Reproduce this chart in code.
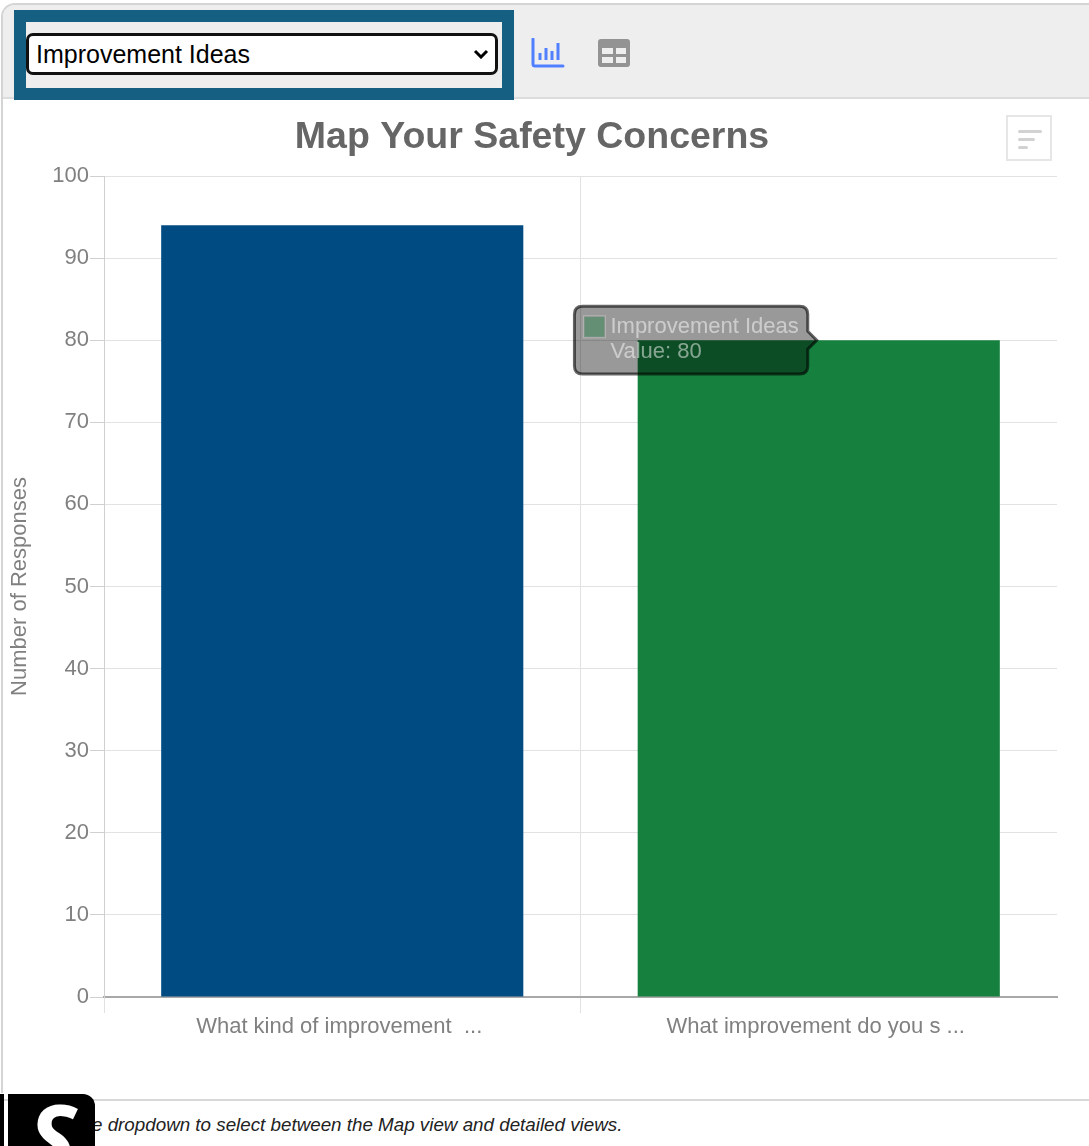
<!DOCTYPE html>
<html>
<head>
<meta charset="utf-8">
<title>Map Your Safety Concerns</title>
<script src="https://cdn.jsdelivr.net/npm/chart.js@4"></script>
<style>
    html, body { margin: 0; padding: 0; background: #fff; overflow: hidden; }
    body { width: 1089px; height: 1146px; position: relative; font-family: "Liberation Sans", Arial, sans-serif; }
    #panel { position: absolute; left: 1px; top: 3px; width: 1090px; height: 1090px; box-sizing: border-box;
        border: 2px solid #d4d4d4; border-right: 0; border-bottom: 0; border-top-left-radius: 14px; }
    #toolbar { position: absolute; left: 3px; top: 5px; width: 1086px; height: 92px; background: #eee; border-bottom: 2px solid #dcdcdc;
        border-top-left-radius: 12px; }
    #focus { position: absolute; left: 14px; top: 10px; width: 476px; height: 66px; background: #eee; border: 12px solid #156082; }
    #picker { position: absolute; left: 26px; top: 33px; width: 472px; height: 42px; font: 25px "Liberation Sans", Arial, sans-serif;
        color: #000; border: 3px solid #111; border-radius: 7px; padding: 0 0 0 7px; box-sizing: border-box; outline: 0;
        appearance: none; -webkit-appearance: none;
        background: #fff url("data:image/svg+xml,%3Csvg xmlns='http://www.w3.org/2000/svg' width='16' height='10'%3E%3Cpath d='M2 2l6 6 6-6' fill='none' stroke='%23000' stroke-width='3'/%3E%3C/svg%3E") no-repeat right 6px center; }
    .icon { position: absolute; top: 38px; }
    #chart-wrap { position: absolute; left: 0; top: 100px; width: 1089px; height: 990px; }
    #sort { position: absolute; left: 1006px; top: 115px; width: 46px; height: 46px; box-sizing: border-box; border: 2px solid #e6e6e6; background: #fff; }
    #sort i { position: absolute; left: 10px; height: 3px; background: #d2d2d2; border-radius: 2px; }
    #footer { position: absolute; left: 0; right: 0; top: 1099px; border-top: 2px solid #d8d8d8; }
    #note { position: absolute; left: 92px; top: 1114px; font: italic 18.8px "Liberation Sans", Arial, sans-serif; color: #222; white-space: nowrap; }
    #badge { position: absolute; left: 8px; top: 1094px; width: 87px; height: 52px; background: #000; border-top-right-radius: 12px; overflow: hidden; }
    #badge span { position: absolute; left: 20px; top: -4px; font: italic bold 92px "Open Sans", sans-serif; color: #fff; line-height: 92px; }
    #badge-l { position: absolute; left: 0; top: 1094px; width: 4px; height: 52px; background: #000; }
</style>
</head>
<body>
<div id="panel"></div>
<div id="toolbar"></div>
<div id="focus"></div>
<select id="picker"><option>Improvement Ideas</option></select>
<svg class="icon" style="left:531px" width="34" height="30" viewBox="0 0 34 30">
    <path d="M2 1v25a2 2 0 0 0 2 2h28" fill="none" stroke="#5080ff" stroke-width="3" stroke-linecap="round"/>
    <path d="M9 15v7M15 10v12M21 13v9M27 5v17" stroke="#5080ff" stroke-width="3" fill="none"/>
</svg>
<svg class="icon" style="left:598px;top:39px" width="32" height="28" viewBox="0 0 32 28">
    <rect width="32" height="28" rx="3" fill="#939393"/>
    <rect x="4" y="9" width="11" height="6" fill="#eee"/><rect x="18" y="9" width="10" height="6" fill="#eee"/>
    <rect x="4" y="18" width="11" height="6" fill="#eee"/><rect x="18" y="18" width="10" height="6" fill="#eee"/>
</svg>
<div id="chart-wrap"><canvas id="myChart" width="1089" height="990"></canvas></div>
<div id="sort"><i style="top:13px;width:24px"></i><i style="top:21px;width:17px"></i><i style="top:29px;width:10px"></i></div>
<div id="footer"></div>
<div id="note">e dropdown to select between the Map view and detailed views.</div>
<div id="badge-l"></div>
<div id="badge"><span>S</span></div>

<script>
const categories = ["What kind of improvement  ... ", "What improvement do you s ... "];
const seriesName = "Improvement Ideas";
const seriesValues = [94, 80];
const barColors = ["#004b82", "#16803e"];
const yTicks = [0, 10, 20, 30, 40, 50, 60, 70, 80, 90, 100];

const fontFamily = '"Liberation Sans", Arial, sans-serif';

const ctx = document.getElementById("myChart").getContext("2d");
const chart = new window.Chart(ctx, {
    type: "bar",
    data: {
        labels: categories,
        datasets: [
            {
                label: seriesName,
                backgroundColor: barColors,
                borderWidth: 0,
                data: seriesValues,
            },
        ],
    },
    options: {
        responsive: false,
        animation: false,
        events: [],
        barPercentage: 0.76,
        categoryPercentage: 1,
        layout: { padding: { right: 32, left: 7, top: 0, bottom: 0 } },
        plugins: {
            legend: { display: false },
            title: {
                display: true,
                text: "Map Your Safety Concerns",
                color: "#666",
                font: { family: fontFamily, size: 37.5, weight: "bold" },
                padding: { top: 15, bottom: 16 },
            },
            tooltip: {
                enabled: true,
                xAlign: "right",
                yAlign: "center",
                backgroundColor: "rgba(0, 0, 0, 0.4)",
                borderColor: "rgba(0, 0, 0, 0.6)",
                borderWidth: 3,
                cornerRadius: 8,
                caretSize: 9,
                caretPadding: 2,
                padding: { left: 9, right: 9, top: 8, bottom: 10 },
                boxWidth: 22,
                boxHeight: 22,
                boxPadding: 3,
                bodyColor: "rgba(255, 255, 255, 0.5)",
                bodyFont: { family: fontFamily, size: 22, lineHeight: 1.13 },
                bodySpacing: 0,
                multiKeyBackground: "rgba(255, 255, 255, 0)",
                callbacks: {
                    title: () => "",
                    label: (item) => [item.dataset.label, "Value: " + item.raw],
                    labelColor: () => ({
                        borderColor: "rgba(255, 255, 255, 0.25)",
                        backgroundColor: "rgba(22, 128, 62, 0.4)",
                        borderWidth: 1,
                    }),
                },
            },
        },
        scales: {
            x: {
                grid: {
                    // the extra closing line has no tick in its context, hide it
                    color: (c) => (c.index === undefined ? "transparent" : "#e2e2e2"),
                    tickLength: 16,
                },
                border: { color: "#a8a8a8", width: 2 },
                ticks: {
                    color: "#808080",
                    font: { family: fontFamily, size: 22 },
                    maxRotation: 0,
                    padding: 1,
                },
                afterFit: (scale) => { scale.height = 93; },
            },
            y: {
                min: 0,
                max: 100,
                title: {
                    display: true,
                    text: "Number of Responses",
                    color: "#808080",
                    font: { family: fontFamily, size: 22 },
                    padding: 0,
                },
                grid: { color: "#e2e2e2", tickLength: 14, tickColor: "#d0d0d0" },
                border: { color: "#d0d0d0" },
                ticks: {
                    color: "#808080",
                    font: { family: fontFamily, size: 22 },
                    padding: 1,
                    stepSize: 10,
                    callback: (value) => (yTicks.includes(value) ? value : ""),
                },
                afterFit: (scale) => { scale.width = 97; },
            },
        },
    },
});

// show the hover box on the second bar, as in the screenshot
chart.tooltip.setActiveElements([{ datasetIndex: 0, index: 1 }], { x: 0, y: 0 });
chart.update();
</script>
</body>
</html>
